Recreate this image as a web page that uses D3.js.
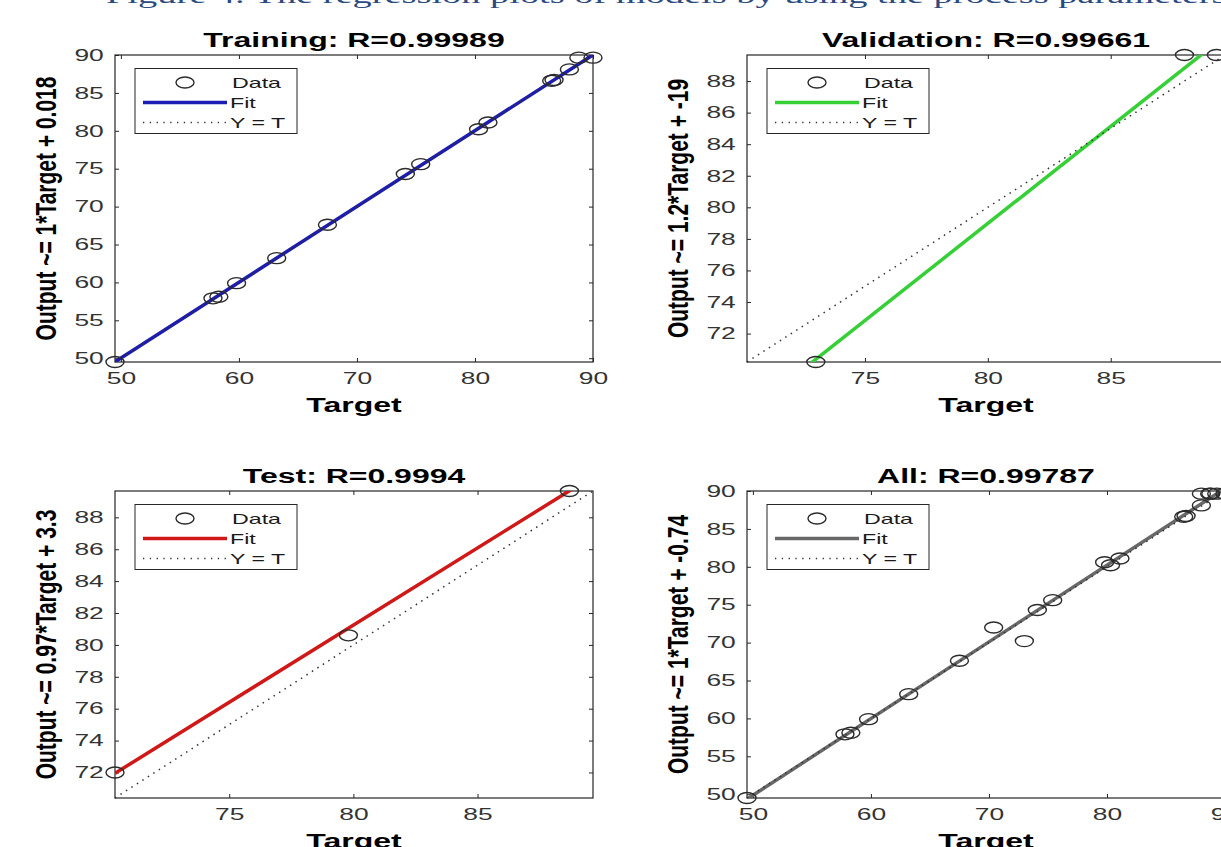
<!DOCTYPE html>
<html>
<head>
<meta charset="utf-8">
<script src="https://cdn.jsdelivr.net/npm/d3@7"></script>
<style>
body { margin: 0; background: #fff; }
svg { display: block; }
</style>
</head>
<body>
<svg id="chart" width="1221" height="847"></svg>
<script>
// values (target, output)
var trainTarget = [49.5, 57.8, 58.3, 59.8, 63.2, 67.5, 74.1, 75.4, 80.3, 81.1, 86.5, 86.7, 88.0, 88.8, 90.0];
var trainOutput = [49.5, 57.9, 58.1, 59.9, 63.2, 67.6, 74.3, 75.6, 80.2, 81.1, 86.6, 86.7, 88.1, 89.65, 89.65];
var valTarget = [73.0, 88.0, 89.3];
var valOutput = [70.2, 89.65, 89.65];
var testTarget = [70.4, 79.8, 88.7];
var testOutput = [72.0, 80.6, 89.65];

var titles = ['Training: R=0.99989', 'Validation: R=0.99661', 'Test: R=0.9994', 'All: R=0.99787'];
var yLabels = ['Output ~= 1*Target + 0.018', 'Output ~= 1.2*Target + -19',
    'Output ~= 0.97*Target + 3.3', 'Output ~= 1*Target + -0.74'];
var fitSlope = [1.0, 1.23, 0.968, 1.012];
var fitIntercept = [0.018, -19.42, 3.8, -0.74];
var xTicks = [[50, 60, 70, 80, 90], [75, 80, 85], [75, 80, 85], [50, 60, 70, 80, 90]];
var yTicks = [[50, 55, 60, 65, 70, 75, 80, 85, 90], [72, 74, 76, 78, 80, 82, 84, 86, 88],
    [72, 74, 76, 78, 80, 82, 84, 86, 88], [50, 55, 60, 65, 70, 75, 80, 85, 90]];
var legendNames = ['Data', 'Fit', 'Y = T'];
var xLabel = 'Target';
var caption = 'Figure 4. The regression plots of models by using the process parameters';

// layout / style
var SX = 1.6; // the source picture is stretched sideways
var W = 478, H = 307;
var origins = [[115, 55], [747, 55], [115, 491], [747, 491]];
var fitColors = ['#1c1cb2', '#35d035', '#d01818', '#686868'];
var sans = '"Liberation Sans", Arial, sans-serif';

var svg = d3.select('#chart');

svg.append('text')
    .attr('transform', 'translate(106,2.5) scale(' + SX + ',1)')
    .attr('font-family', '"Liberation Serif", "Times New Roman", serif')
    .attr('font-size', 24)
    .attr('fill', '#2a4a80')
    .text(caption);

drawPanel(0, trainTarget, trainOutput);
drawPanel(1, valTarget, valOutput);
drawPanel(2, testTarget, testOutput);
drawPanel(3, trainTarget.concat(valTarget, testTarget), trainOutput.concat(valOutput, testOutput));

function drawPanel(i, target, output) {
    var g = svg.append('g').attr('transform', 'translate(' + origins[i][0] + ',' + origins[i][1] + ')');
    var dom = d3.extent(target.concat(output));

    var x = d3.scaleLinear().domain(dom).range([0, W]);
    var y = d3.scaleLinear().domain(dom).range([H, 0]);

    g.append('clipPath').attr('id', 'clip' + i)
        .append('rect').attr('width', W).attr('height', H);

    // axes, ticks inward on all four sides
    g.append('g')
        .attr('transform', 'translate(0,' + H + ')')
        .call(d3.axisBottom(x).tickValues(xTicks[i]).tickSize(-4).tickSizeOuter(0).tickPadding(10));
    g.append('g')
        .call(d3.axisLeft(y).tickValues(yTicks[i]).tickSize(-4).tickSizeOuter(0).tickPadding(7));
    g.append('g')
        .call(d3.axisTop(x).tickValues(xTicks[i]).tickSize(-4).tickSizeOuter(0).tickFormat(''));
    g.append('g')
        .attr('transform', 'translate(' + W + ',0)')
        .call(d3.axisRight(y).tickValues(yTicks[i]).tickSize(-4).tickSizeOuter(0).tickFormat(''));
    g.selectAll('.domain').remove();
    g.selectAll('.tick line').attr('stroke', '#262626');
    g.selectAll('.tick text')
        .attr('transform', 'scale(' + SX + ',1)')
        .attr('font-family', sans)
        .attr('font-size', 16.5)
        .attr('fill', '#333');

    g.append('rect')
        .attr('width', W).attr('height', H)
        .attr('fill', 'none')
        .attr('stroke', '#262626')
        .attr('stroke-width', 1.2);

    var line = d3.line()
        .x((d) => x(d[0]))
        .y((d) => y(d[1]));

    g.append('path')
        .datum(dom.map((t) => [t, fitSlope[i] * t + fitIntercept[i]]))
        .attr('clip-path', 'url(#clip' + i + ')')
        .attr('d', line)
        .attr('fill', 'none')
        .attr('stroke', fitColors[i])
        .attr('stroke-width', 3.5);

    g.append('path')
        .datum(dom.map((t) => [t, t]))
        .attr('d', line)
        .attr('fill', 'none')
        .attr('stroke', '#333')
        .attr('stroke-width', 1.5)
        .attr('stroke-dasharray', '1.5,5');

    g.selectAll('ellipse.pt')
        .data(d3.zip(target, output))
        .join('ellipse')
        .attr('class', 'pt')
        .attr('cx', (d) => x(d[0]))
        .attr('cy', (d) => y(d[1]))
        .attr('rx', 9)
        .attr('ry', 5.5)
        .attr('fill', 'none')
        .attr('stroke', '#2b2b2b')
        .attr('stroke-width', 1.4);

    g.append('text')
        .attr('transform', 'translate(' + (W / 2) + ',-8.5) scale(' + SX + ',1)')
        .attr('text-anchor', 'middle')
        .attr('font-family', sans)
        .attr('font-weight', 'bold')
        .attr('font-size', 20)
        .text(titles[i]);

    g.append('text')
        .attr('transform', 'translate(' + (W / 2) + ',' + (H + 50) + ') scale(' + SX + ',1)')
        .attr('text-anchor', 'middle')
        .attr('font-family', sans)
        .attr('font-weight', 'bold')
        .attr('font-size', 20)
        .text(xLabel);

    g.append('text')
        .attr('transform', 'translate(-59.5,' + (H / 2) + ') scale(1.4,1) rotate(-90)')
        .attr('text-anchor', 'middle')
        .attr('font-family', sans)
        .attr('font-weight', 'bold')
        .attr('font-size', 21)
        .text(yLabels[i]);

    // legend
    var lg = g.append('g').attr('transform', 'translate(20,13.5)');
    lg.append('rect')
        .attr('width', 162).attr('height', 65)
        .attr('fill', '#fff')
        .attr('stroke', '#262626');
    lg.append('ellipse')
        .attr('cx', 50).attr('cy', 14)
        .attr('rx', 9).attr('ry', 5.5)
        .attr('fill', 'none')
        .attr('stroke', '#2b2b2b')
        .attr('stroke-width', 1.4);
    lg.append('line')
        .attr('x1', 8).attr('x2', 92).attr('y1', 34).attr('y2', 34)
        .attr('stroke', fitColors[i])
        .attr('stroke-width', 3.5);
    lg.append('line')
        .attr('x1', 8).attr('x2', 92).attr('y1', 54).attr('y2', 54)
        .attr('stroke', '#333')
        .attr('stroke-width', 1.3)
        .attr('stroke-dasharray', '1.3,5.5');
    lg.selectAll('text.name')
        .data(legendNames)
        .join('text')
        .attr('class', 'name')
        .attr('transform', (d, k) => 'translate(' + (k === 0 ? 97 : 95) + ',' + (14 + 20 * k) + ') scale(' + SX + ',1)')
        .attr('dy', '0.35em')
        .attr('font-family', sans)
        .attr('font-size', 14.5)
        .attr('fill', '#1a1a1a')
        .text((d) => d);
}
</script>
</body>
</html>
